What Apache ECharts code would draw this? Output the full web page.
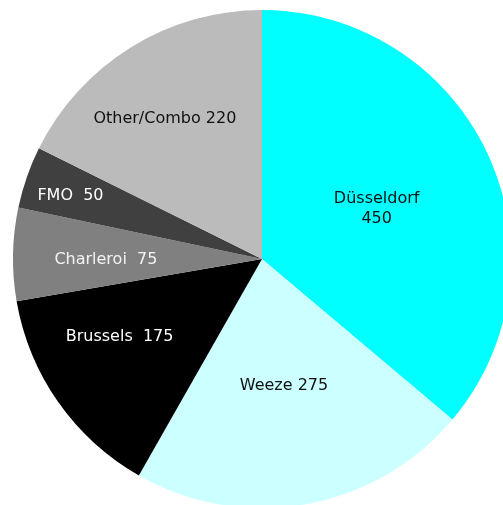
<!DOCTYPE html>
<html>
<head>
<meta charset="utf-8">
<script src="https://cdn.jsdelivr.net/npm/echarts@6/dist/echarts.min.js"></script>
<style>html,body{margin:0;padding:0;background:#fff}#c{width:503px;height:505px}</style>
</head>
<body>
<div id="c"></div>
<script>
const categories = ['Düsseldorf', 'Weeze', 'Brussels', 'Charleroi', 'FMO', 'Other/Combo'];
const values = [450, 275, 175, 75, 50, 220];
const labelTexts = ['Düsseldorf\n450', 'Weeze 275', 'Brussels  175', 'Charleroi  75', 'FMO  50', 'Other/Combo 220'];
const colors = ['#00ffff', '#ccffff', '#000000', '#808080', '#404040', '#bbbbbb'];
const textColors = ['#111111', '#111111', '#ffffff', '#f2f2f2', '#ffffff', '#111111'];
// label placement (layout only): fraction of radius and angular shift in degrees
const labelRadiusFrac = [0.49, 0.505, 0.64, 0.615, 0.798, 0.674];
const labelAngleShift = [1.5, 0.3, 6.5, -1.4, -0.9, -2.9];

const R = 249;
const total = values.reduce((a, b) => a + b, 0);
let acc = 0;
const data = values.map((v, i) => {
  const mid = (acc + v / 2) / total * 2 * Math.PI;
  acc += v;
  const ang = mid + labelAngleShift[i] * Math.PI / 180;
  const r = labelRadiusFrac[i] * R;
  const dx = r * Math.sin(ang) - (R / 2) * Math.sin(mid);
  const dy = -r * Math.cos(ang) + (R / 2) * Math.cos(mid);
  return {
    name: categories[i],
    value: v,
    itemStyle: { color: colors[i] },
    label: {
      formatter: labelTexts[i],
      color: textColors[i],
      offset: [dx, dy]
    }
  };
});

const chart = echarts.init(document.getElementById('c'), null, { renderer: 'canvas' });
chart.setOption({
  animation: false,
  backgroundColor: '#ffffff',
  series: [{
    type: 'pie',
    center: [262, 259],
    radius: [0, R],
    startAngle: 90,
    clockwise: true,
    avoidLabelOverlap: false,
    itemStyle: { borderWidth: 0 },
    label: {
      show: true,
      position: 'inside',
      fontFamily: 'DejaVu Sans',
      fontSize: 16,
      lineHeight: 20,
      align: 'center'
    },
    labelLine: { show: false },
    emphasis: { disabled: true },
    data: data
  }]
});
</script>
</body>
</html>
